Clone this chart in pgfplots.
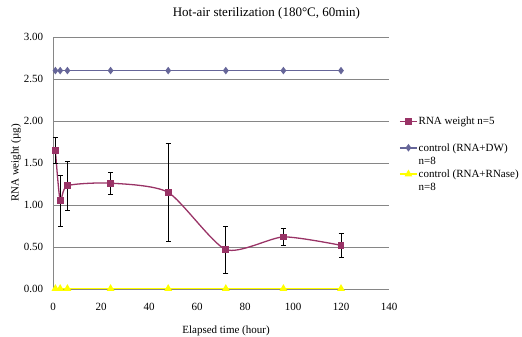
\documentclass[border=0pt]{standalone}
\usepackage{pgfplots}
\pgfplotsset{compat=1.18}
\usepackage{fontspec}
\setmainfont{Liberation Serif}
\definecolor{rnacol}{RGB}{153,51,102}
\definecolor{dwcol}{RGB}{102,102,153}
\definecolor{rnasecol}{RGB}{255,255,0}
\definecolor{gridcol}{RGB}{134,134,134}
\newcommand{\lrow}[1]{\rule[-3bp]{0pt}{11.5bp}#1}
\begin{document}
\fontsize{11bp}{12.5bp}\selectfont
\begin{tikzpicture}
\begin{axis}[
  scale only axis,
  width=336bp, height=252bp,
  xmin=0, xmax=140, ymin=0, ymax=3,
  xtick={0,20,...,140},
  ytick={0,0.5,...,3},
  axis x line=bottom, axis y line=left,
  axis line style={gridcol, -},
  major tick length=0pt,
  ymajorgrids, grid style={gridcol, line width=0.8pt},
  /pgf/number format/assume math mode=true,
  yticklabel style={/pgf/number format/fixed, /pgf/number format/fixed zerofill, /pgf/number format/precision=2, xshift=-6bp, font=\fontsize{11bp}{12.5bp}\selectfont},
  xticklabel style={yshift=-10bp, font=\fontsize{11bp}{12.5bp}\selectfont},
  ylabel={RNA weight (µg)},
  ylabel style={at={(axis description cs:-0.110,0.5)}, anchor=center, font=\fontsize{11bp}{12.5bp}\selectfont},
  xlabel={Elapsed time (hour)},
  xlabel style={at={(axis description cs:0.515,0)}, anchor=center, yshift=-42bp, font=\fontsize{11bp}{12.5bp}\selectfont},
  title={Hot-air sterilization (180°C, 60min)},
  title style={at={(axis description cs:0.635,1)}, anchor=base, yshift=15bp, font=\fontsize{13bp}{15bp}\selectfont},
  legend style={at={(axis description cs:1,1)}, anchor=north west, xshift=10bp, yshift=-78.2bp, draw=none, fill=none, inner sep=0pt, row sep=1bp, nodes={inner sep=1bp}, cells={anchor=west}, font=\fontsize{11bp}{12.5bp}\selectfont},
  clip=false,
]
\coordinate (ll) at (rel axis cs:0,0);
\coordinate (ur) at (rel axis cs:1,1);
\addplot[rnacol, line width=1.3pt, smooth, tension=0.4, mark=square*, mark size=2.7bp, mark options={fill=rnacol, draw=rnacol},
  error bars/.cd, y dir=both, y explicit, error bar style={black, line width=0.7pt},
  error mark options={rotate=90, mark size=2.5bp, black, line width=0.7pt}]
  coordinates {
  (1,1.65) +- (0,0.15)
  (3,1.05) +- (0,0.30)
  (6,1.23) +- (0,0.29)
  (24,1.26) +- (0,0.13)
  (48,1.15) +- (0,0.58)
  (72,0.47) +- (0,0.28)
  (96,0.62) +- (0,0.10)
  (120,0.52) +- (0,0.14)
  };
\addlegendentry{\lrow{RNA weight n=5}}
\addlegendimage{empty legend}
\addlegendentry{\rule[-4bp]{0pt}{12.5bp}}
\addplot[dwcol, line width=1.5pt, mark=diamond*, mark size=2.6bp, mark options={fill=dwcol, draw=dwcol}]
  coordinates {(1,2.60) (3,2.60) (6,2.60) (24,2.60) (48,2.60) (72,2.60) (96,2.60) (120,2.60)};
\addlegendentry{\lrow{control (RNA+DW)}}
\addlegendimage{empty legend}
\addlegendentry{\lrow{n=8}}
\addplot[rnasecol, line width=1.5pt, mark=triangle*, mark size=3bp, mark options={fill=rnasecol, draw=rnasecol}]
  coordinates {(1,0.005) (3,0.005) (6,0.005) (24,0.005) (48,0.005) (72,0.005) (96,0.005) (120,0.005)};
\addlegendentry{\lrow{control (RNA+RNase)}}
\addlegendimage{empty legend}
\addlegendentry{\lrow{n=8}}
\end{axis}
\pgfresetboundingbox
\path ([shift={(-53bp,-48bp)}]ll) rectangle ([shift={(133bp,37bp)}]ur);
\end{tikzpicture}
\end{document}
